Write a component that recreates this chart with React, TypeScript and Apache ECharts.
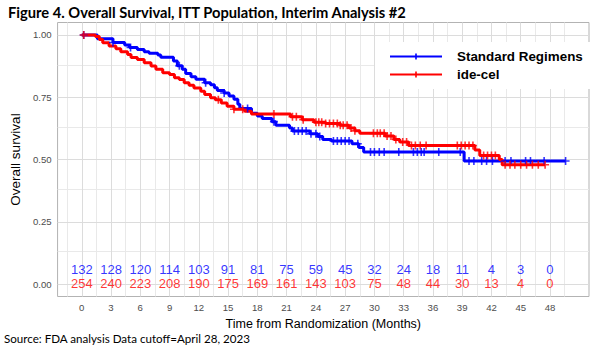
import React, { useEffect, useRef } from "react";
import * as echarts from "echarts";

// ---- data ----
const xTicks = [0, 3, 6, 9, 12, 15, 18, 21, 24, 27, 30, 33, 36, 39, 42, 45, 48];
const yTicks = [0, 0.25, 0.5, 0.75, 1];

const riskStandard = [132, 128, 120, 114, 103, 91, 81, 75, 59, 45, 32, 24, 18, 11, 4, 3, 0];
const riskIdecel = [254, 240, 223, 208, 190, 175, 169, 161, 143, 103, 75, 48, 44, 30, 13, 4, 0];

// Kaplan-Meier step points: [time (months), survival after step]
const standardKM: [number, number][] = [
  [0, 1.0], [1.6, 0.985], [3.2, 0.97], [4.4, 0.96], [4.9, 0.95], [5.7, 0.942],
  [6.4, 0.933], [6.9, 0.927], [7.8, 0.92], [8.1, 0.91], [9.4, 0.895], [9.8, 0.876],
  [10.3, 0.862], [10.65, 0.845], [11.2, 0.832], [11.7, 0.822], [12.6, 0.808],
  [13.2, 0.8], [13.6, 0.788], [13.9, 0.777], [14.6, 0.767], [15.1, 0.755],
  [15.6, 0.742], [16.0, 0.722], [16.2, 0.705], [17.4, 0.686], [18.0, 0.675],
  [18.5, 0.665], [19.5, 0.652], [19.9, 0.638], [21.3, 0.626], [21.6, 0.614],
  [23.4, 0.603], [24.2, 0.592], [24.7, 0.58], [25.6, 0.574], [27.7, 0.563],
  [28.4, 0.548], [28.9, 0.53], [39.2, 0.494], [49.6, 0.494],
];

const idecelKM: [number, number][] = [
  [0, 1.0], [1.4, 0.994], [1.8, 0.982], [2.15, 0.969], [2.8, 0.956], [3.5, 0.945],
  [4.0, 0.933], [4.7, 0.922], [5.05, 0.909], [5.7, 0.901], [6.4, 0.888], [7.1, 0.875],
  [7.6, 0.862], [8.3, 0.848], [9.0, 0.841], [9.5, 0.828], [10.0, 0.821], [10.5, 0.808],
  [11.0, 0.798], [11.5, 0.787], [12.2, 0.774], [12.6, 0.761], [13.2, 0.748],
  [13.7, 0.74], [14.3, 0.727], [14.9, 0.714], [15.6, 0.702], [16.7, 0.694],
  [17.4, 0.683], [21.4, 0.672], [22.6, 0.66], [23.8, 0.65], [25.0, 0.645],
  [26.5, 0.637], [27.4, 0.626], [28.0, 0.615], [28.5, 0.605], [31.1, 0.594],
  [32.0, 0.58], [32.6, 0.57], [33.5, 0.556], [40.3, 0.538], [40.8, 0.516],
  [42.8, 0.5], [43.1, 0.479], [47.5, 0.479],
];

const standardCensor = [
  0.2, 3.2, 5.0, 10.0, 12.7, 14.6, 17.0, 19.7, 21.8, 22.2, 22.6, 23.0, 23.5, 24.0,
  24.4, 25.8, 26.2, 26.6, 27.0, 27.4, 28.3, 29.6, 30.0, 30.5, 31.0, 32.5, 34.0,
  34.4, 34.8, 35.1, 36.6, 38.8, 39.7, 40.2, 41.0, 41.5, 42.1, 43.4, 44.0, 45.5,
  46.0, 47.4, 49.6,
];
const idecelCensor = [
  0.2, 14.0, 15.6, 16.5, 19.7, 21.6, 22.0, 22.7, 24.0, 24.3, 24.6, 25.0, 25.4,
  25.8, 26.2, 26.5, 26.8, 27.2, 27.6, 28.0, 29.9, 30.3, 30.6, 31.0, 31.3, 31.7,
  32.2, 32.9, 33.3, 33.8, 34.2, 34.7, 35.3, 38.5, 38.9, 39.3, 39.7, 40.1, 41.2,
  41.6, 42.0, 42.4, 43.4, 43.9, 44.4, 45.0, 45.6, 46.2, 46.8, 47.5,
];

const riskRowStandardY = 0.057;
const riskRowIdecelY = 0.001;

// ---- helpers ----
function survivalAt(km: [number, number][], t: number): number {
  let s = km[0][1];
  for (const [tt, v] of km) {
    if (tt <= t) s = v;
    else break;
  }
  return s;
}

const X_MIN = -2.48;
const X_MAX = 52.0;
const Y_MIN = -0.05;
const Y_MAX = 1.05;

const BLUE = "#0000FF";
const RED = "#FF0000";
const CROSS = "path://M-0.8,-4H0.8V-0.8H4V0.8H0.8V4H-0.8V0.8H-4V-0.8H-0.8Z";
const LEGEND_ICON = "path://M0,2H25.2V0H26.8V2H52V4H26.8V6H25.2V4H0Z";

export default function App() {
  const ref = useRef<HTMLDivElement>(null);

  useEffect(() => {
    if (!ref.current) return;
    const chart = echarts.init(ref.current, undefined, { renderer: "svg" });

    const minorX: number[] = [];
    for (const t of xTicks) {
      if (t - 1.5 > X_MIN && !minorX.includes(t - 1.5)) minorX.push(t - 1.5);
      if (t + 1.5 < X_MAX) minorX.push(t + 1.5);
    }
    const minorY: number[] = [];
    for (const v of yTicks) {
      if (v + 0.125 < Y_MAX) minorY.push(v + 0.125);
    }
    const majorStyle = { color: "#DCDCDC", width: 1, type: "solid" as const };
    const minorStyle = { color: "#E9E9E9", width: 1, type: "solid" as const };
    const gridLines = [
      ...minorX.map((v) => ({ xAxis: v, lineStyle: minorStyle })),
      ...minorY.map((v) => ({ yAxis: v, lineStyle: minorStyle })),
      ...xTicks.map((v) => ({ xAxis: v, lineStyle: majorStyle })),
      ...yTicks.map((v) => ({ yAxis: v, lineStyle: majorStyle })),
    ];

    const tickFont = { fontFamily: "Liberation Sans", fontSize: 9.6, color: "#4D4D4D" };

    chart.setOption({
      animation: false,
      backgroundColor: "#fff",
      title: [
        {
          text: "Figure 4. Overall Survival, ITT Population, Interim Analysis #2",
          left: 8,
          top: 4,
          padding: 0,
          textStyle: {
            fontFamily: "Lato",
            fontWeight: "bold",
            fontSize: 14.7,
            color: "#000",
          },
        },
        {
          text: "Source: FDA analysis Data cutoff=April 28, 2023",
          left: 4,
          top: 332,
          padding: 0,
          textStyle: {
            fontFamily: "Lato",
            fontWeight: "normal",
            fontSize: 11.6,
            color: "#000",
          },
        },
      ],
      legend: {
        data: ["Standard Regimens", "ide-cel"],
        orient: "vertical",
        left: 375,
        top: 42,
        z: 10,
        padding: [8, 10, 8, 15],
        backgroundColor: "#fff",
        icon: LEGEND_ICON,
        itemWidth: 52,
        itemHeight: 6,
        itemGap: 5,
        itemStyle: { borderWidth: 0 },
        selectedMode: false,
        textStyle: {
          fontFamily: "Liberation Sans",
          fontWeight: "bold",
          fontSize: 13.4,
          color: "#000",
          padding: [0, 0, 0, 10],
        },
      },
      grid: {
        left: 55,
        right: 11,
        top: 22.5,
        bottom: 58.5,
        show: true,
        borderColor: "#B3B3B3",
        borderWidth: 1,
        backgroundColor: "#fff",
      },
      xAxis: {
        type: "value",
        min: X_MIN,
        max: X_MAX,
        name: "Time from Randomization (Months)",
        nameLocation: "middle",
        nameGap: 16,
        nameTextStyle: { fontFamily: "Liberation Sans", fontSize: 12.5, color: "#000" },
        axisLine: { show: false },
        splitLine: { show: false },
        axisTick: {
          show: true,
          length: 3.5,
          customValues: xTicks,
          lineStyle: { color: "#555", width: 1 },
        },
        axisLabel: {
          customValues: xTicks,
          margin: 6,
          ...tickFont,
        },
      },
      yAxis: {
        type: "value",
        min: Y_MIN,
        max: Y_MAX,
        name: "Overall survival",
        nameLocation: "middle",
        nameGap: 24,
        nameTextStyle: { fontFamily: "Liberation Sans", fontSize: 13.5, color: "#000" },
        axisLine: { show: false },
        splitLine: { show: false },
        axisTick: {
          show: true,
          length: 3.5,
          customValues: yTicks,
          lineStyle: { color: "#555", width: 1 },
        },
        axisLabel: {
          customValues: yTicks,
          margin: 6,
          formatter: (v: number) => v.toFixed(2),
          ...tickFont,
        },
      },
      series: [
        {
          type: "line",
          data: [],
          silent: true,
          z: 1,
          markLine: {
            z: 1,
            silent: true,
            symbol: ["none", "none"],
            label: { show: false },
            emphasis: { disabled: true },
            animation: false,
            data: gridLines,
          },
        },
        {
          name: "Standard Regimens",
          type: "line",
          step: "end",
          data: standardKM,
          showSymbol: false,
          color: BLUE,
          lineStyle: { color: BLUE, width: 3 },
          z: 3,
        },
        {
          name: "ide-cel",
          type: "line",
          step: "end",
          data: idecelKM,
          showSymbol: false,
          color: RED,
          lineStyle: { color: RED, width: 3 },
          z: 4,
        },
        {
          type: "scatter",
          data: standardCensor.map((t) => [t, survivalAt(standardKM, t)]),
          symbol: CROSS,
          symbolSize: 8,
          itemStyle: { color: BLUE },
          z: 5,
        },
        {
          type: "scatter",
          data: idecelCensor.map((t) => [t, survivalAt(idecelKM, t)]),
          symbol: CROSS,
          symbolSize: 8,
          itemStyle: { color: RED },
          z: 6,
        },
        {
          type: "scatter",
          data: xTicks.map((t, i) => [t, riskRowStandardY, riskStandard[i]]),
          symbolSize: 0.1,
          itemStyle: { color: "rgba(0,0,0,0)" },
          label: {
            show: true,
            position: "inside",
            formatter: (p: any) => String(p.value[2]),
            color: BLUE,
            fontFamily: "Liberation Sans",
            fontSize: 13,
          },
          z: 7,
        },
        {
          type: "scatter",
          data: xTicks.map((t, i) => [t, riskRowIdecelY, riskIdecel[i]]),
          symbolSize: 0.1,
          itemStyle: { color: "rgba(0,0,0,0)" },
          label: {
            show: true,
            position: "inside",
            formatter: (p: any) => String(p.value[2]),
            color: RED,
            fontFamily: "Liberation Sans",
            fontSize: 13,
          },
          z: 7,
        },
      ],
    });

    return () => chart.dispose();
  }, []);

  return (
    <div
      ref={ref}
      style={{ position: "fixed", left: 0, top: 0, width: 600, height: 355 }}
    />
  );
}
